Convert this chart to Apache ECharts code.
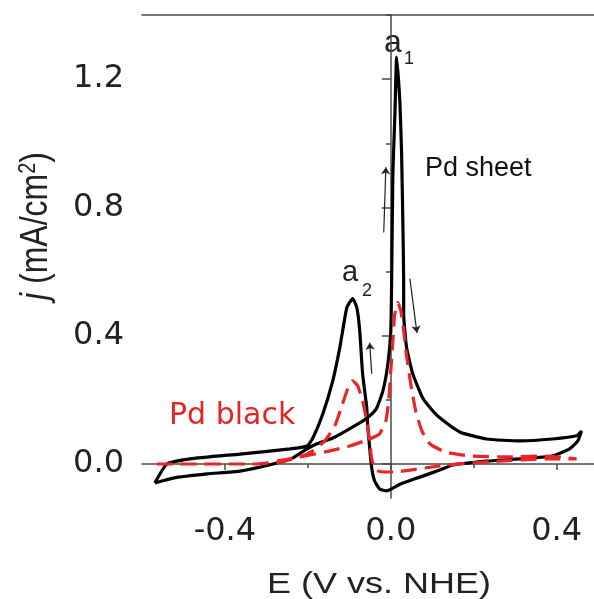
<!DOCTYPE html>
<html><head><meta charset="utf-8">
<script src="https://cdn.jsdelivr.net/npm/echarts@6/dist/echarts.min.js"></script>
<style>html,body{margin:0;padding:0;background:#fff}#c{width:594px;height:599px}</style>
</head><body><div id="c"></div>
<script>
// Pd sheet cyclic voltammogram (positive scan, then negative scan)
const pdSheetE = [-0.569,-0.525,-0.443,-0.364,-0.284,-0.236,-0.202,-0.178,-0.140,-0.068,-0.051,-0.034,-0.019,-0.007,0.000,0.002,0.005,0.010,0.014,0.022,0.026,0.029,0.031,0.031,0.038,0.053,0.077,0.101,0.118,0.166,0.231,0.311,0.390,0.448,0.460,
  0.451,0.431,0.390,0.311,0.231,0.149,0.118,0.063,0.022,-0.010,-0.027,-0.039,-0.046,-0.051,-0.056,-0.058,-0.068,-0.075,-0.082,-0.092,-0.106,-0.123,-0.140,-0.164,-0.188,-0.202,-0.243,-0.364,-0.484,-0.540,-0.569];
const pdSheetJ = [-0.059,-0.044,-0.031,-0.022,0.000,0.019,0.047,0.063,0.081,0.134,0.150,0.175,0.228,0.313,0.416,0.572,0.906,1.094,1.269,1.125,0.969,0.759,0.572,0.469,0.363,0.281,0.206,0.166,0.144,0.100,0.078,0.072,0.078,0.088,0.103,
  0.072,0.047,0.025,0.016,0.009,-0.003,-0.019,-0.044,-0.063,-0.084,-0.078,-0.053,-0.013,0.050,0.125,0.175,0.281,0.416,0.488,0.516,0.488,0.363,0.259,0.156,0.081,0.056,0.047,0.031,0.016,0.000,-0.059];
// Pd black cyclic voltammogram
const pdBlackE = [-0.564,-0.323,-0.243,-0.195,-0.147,-0.099,-0.051,-0.027,-0.012,-0.005,0.000,0.005,0.009,0.017,0.024,0.031,0.038,0.048,0.060,0.075,0.094,0.130,0.190,0.287,0.376,0.448,
  0.376,0.263,0.190,0.118,0.046,0.010,-0.015,-0.036,-0.046,-0.051,-0.058,-0.068,-0.080,-0.092,-0.104,-0.118,-0.135,-0.159,-0.188,-0.219,-0.267,-0.323,-0.564];
const pdBlackJ = [0.000,0.000,0.016,0.028,0.041,0.056,0.078,0.094,0.134,0.197,0.291,0.384,0.463,0.503,0.478,0.416,0.338,0.250,0.166,0.103,0.063,0.038,0.025,0.022,0.025,0.016,
  0.016,0.009,0.003,-0.006,-0.019,-0.025,-0.025,-0.019,0.016,0.072,0.134,0.197,0.244,0.259,0.234,0.181,0.119,0.072,0.041,0.022,0.006,0.000,0.000];
// scan direction arrows: [start, end]
const scanArrows = [
  [[-0.017, 0.722], [-0.012, 0.925]],
  [[-0.046, 0.281], [-0.051, 0.378]],
  [[0.046, 0.578], [0.063, 0.409]]
];
const xMajorTicks = [-0.4, 0.0, 0.4];
const xMinorTicks = [-0.2, 0.2];
const yMajorTicks = [0.0, 0.4, 0.8, 1.2];
const yMinorTicks = [0.2, 0.6, 1.0, 1.4];

const zip = (a, b) => a.map((v, i) => [v, b[i]]);
const LABEL_FONT = 'DejaVu Sans';
const ANN_FONT = 'Liberation Sans';
const axisCol = '#4a4a4a';
const xMin = -0.6, xMax = 0.49, yMin = -0.106, yMax = 1.4;

const chart = echarts.init(document.getElementById('c'), null, {renderer: 'canvas'});
chart.setOption({
  animation: false,
  backgroundColor: '#fff',
  grid: {left: 142, right: 0, top: 15, bottom: 101, containLabel: false},
  xAxis: [
    {type: 'value', min: xMin, max: xMax, position: 'bottom',
     axisLine: {show: true, lineStyle: {color: axisCol, width: 1.5}},
     axisTick: {show: true, customValues: xMajorTicks, length: 6, lineStyle: {color: axisCol, width: 1.5}},
     axisLabel: {customValues: xMajorTicks, margin: 18, fontSize: 32, fontFamily: LABEL_FONT, color: '#222',
                 formatter: v => v.toFixed(1)},
     splitLine: {show: false}},
    {type: 'value', min: xMin, max: xMax, position: 'bottom',
     axisLine: {show: false},
     axisTick: {show: true, customValues: xMinorTicks, length: 4, lineStyle: {color: axisCol, width: 1.5}},
     axisLabel: {show: false}, splitLine: {show: false}},
    {type: 'value', min: xMin, max: xMax, position: 'top',
     axisLine: {show: true, lineStyle: {color: axisCol, width: 1.5}},
     axisTick: {show: false}, axisLabel: {show: false}, splitLine: {show: false}}
  ],
  yAxis: [
    {type: 'value', min: yMin, max: yMax, position: 'left',
     axisLine: {show: true, lineStyle: {color: axisCol, width: 1.5}},
     axisTick: {show: true, customValues: yMajorTicks, length: 9, lineStyle: {color: axisCol, width: 1.5}},
     axisLabel: {customValues: yMajorTicks, margin: 18, fontSize: 32, fontFamily: LABEL_FONT, color: '#222',
                 formatter: v => v.toFixed(1)},
     splitLine: {show: false}},
    {type: 'value', min: yMin, max: yMax, position: 'left',
     axisLine: {show: false},
     axisTick: {show: true, customValues: yMinorTicks, length: 5, lineStyle: {color: axisCol, width: 1.5}},
     axisLabel: {show: false}, splitLine: {show: false}}
  ],
  series: [
    {type: 'line', name: 'Pd sheet', xAxisIndex: 0, yAxisIndex: 0, data: zip(pdSheetE, pdSheetJ),
     showSymbol: false, smooth: 0.15, lineStyle: {color: '#000', width: 3.2}, z: 3},
    {type: 'line', name: 'Pd black', xAxisIndex: 0, yAxisIndex: 0, data: zip(pdBlackE, pdBlackJ),
     showSymbol: false, smooth: 0.15, lineStyle: {color: '#e8262a', width: 3.2, type: [16, 8]}, z: 4},
    {type: 'lines', coordinateSystem: 'cartesian2d', xAxisIndex: 0, yAxisIndex: 0,
     data: scanArrows.map(c => ({coords: c})),
     symbol: ['none', 'arrow'], symbolSize: 7,
     lineStyle: {color: '#222', width: 1.2, opacity: 1}, z: 5}
  ],
  graphic: [
    {type: 'text', x: 36, y: 226, rotation: Math.PI / 2, scaleY: 1.2,
     style: {text: '{i|j} (mA/cm{s|2})', fontSize: 32, fontFamily: ANN_FONT, fill: '#222', align: 'center', verticalAlign: 'middle',
             rich: {i: {fontStyle: 'italic', fontSize: 32, fontFamily: ANN_FONT}, s: {fontSize: 20, fontFamily: ANN_FONT, verticalAlign: 'top'}}}},
    {type: 'text', x: 379, y: 585, scaleX: 1.2,
     style: {text: 'E (V vs. NHE)', fontSize: 30, fontFamily: ANN_FONT, fill: '#222', align: 'center', verticalAlign: 'middle'}},
    {type: 'text', x: 393, y: 43, style: {text: 'a', fontSize: 32, fontFamily: ANN_FONT, fill: '#222', align: 'center', verticalAlign: 'middle'}},
    {type: 'text', x: 409, y: 59, style: {text: '1', fontSize: 18, fontFamily: ANN_FONT, fill: '#222', align: 'center', verticalAlign: 'middle'}},
    {type: 'text', x: 350, y: 273, style: {text: 'a', fontSize: 29, fontFamily: ANN_FONT, fill: '#222', align: 'center', verticalAlign: 'middle'}},
    {type: 'text', x: 367, y: 291, style: {text: '2', fontSize: 18, fontFamily: ANN_FONT, fill: '#222', align: 'center', verticalAlign: 'middle'}},
    {type: 'text', x: 425, y: 169, style: {text: 'Pd sheet', fontSize: 27, fontFamily: ANN_FONT, fill: '#111', align: 'left', verticalAlign: 'middle'}},
    {type: 'text', x: 169, y: 416, style: {text: 'Pd black', fontSize: 30, fontFamily: LABEL_FONT, fill: '#e52525', align: 'left', verticalAlign: 'middle'}}
  ]
});
</script>
</body></html>
